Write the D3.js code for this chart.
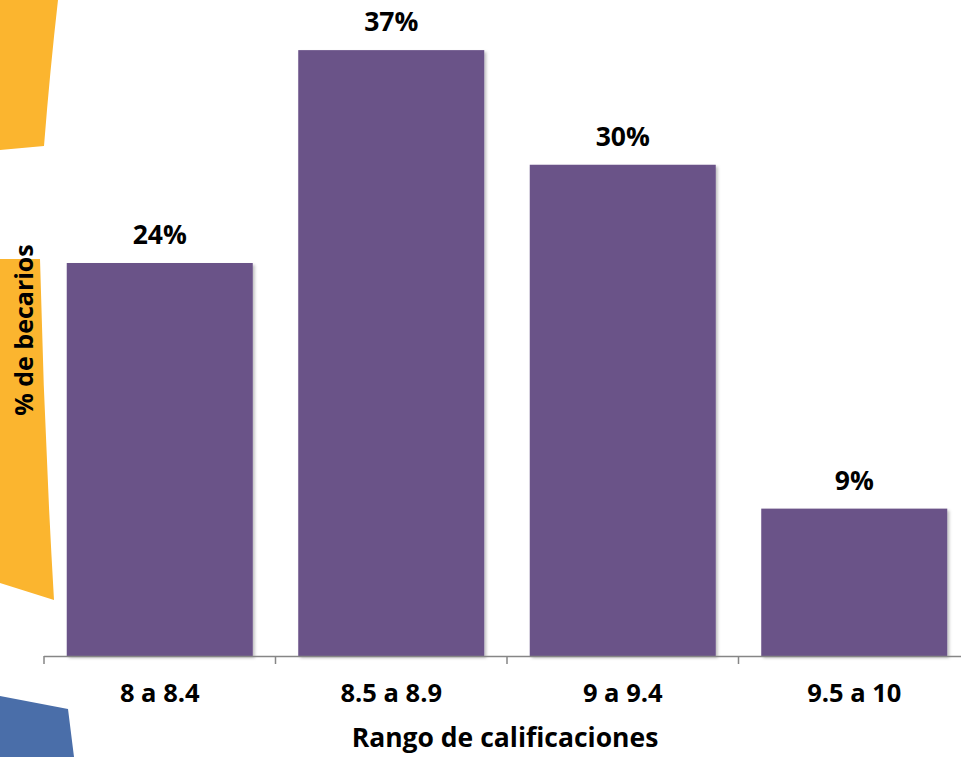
<!DOCTYPE html>
<html>
<head>
<meta charset="utf-8">
<script src="https://cdn.jsdelivr.net/npm/d3@7"></script>
<style>
html,body{margin:0;padding:0;background:#fff;}
svg{display:block;}
text{font-family:"Open Sans",Lato,sans-serif;font-weight:bold;fill:#000;}
</style>
</head>
<body>
<script>
const categories = ["8 a 8.4", "8.5 a 8.9", "9 a 9.4", "9.5 a 10"];
const values = [0.24, 0.37, 0.30, 0.09];
const valueLabels = ["24%", "37%", "30%", "9%"];
const xTitle = "Rango de calificaciones";
const yTitle = "% de becarios";

const W = 961, H = 757;
const svg = d3.select("body").append("svg").attr("width", W).attr("height", H);

// decorative background shapes
const deco = svg.append("g");
deco.append("path").attr("fill", "#FBB52F")
  .attr("d", "M0,0 L58,0 Q50,70 44,146 L0,150 Z");
deco.append("path").attr("fill", "#FBB52F")
  .attr("d", "M0,259 L40,259 Q44,430 54,600 L0,583 Z");
deco.append("path").attr("fill", "#4A6EA9")
  .attr("d", "M0,696 L68,709 L74,757 L0,757 Z");

const defs = svg.append("defs");
const f = defs.append("filter").attr("id", "sh").attr("x", "-5%").attr("y", "-5%").attr("width", "115%").attr("height", "115%");
f.append("feDropShadow").attr("dx", 2).attr("dy", 2).attr("stdDeviation", 1.5).attr("flood-color", "#000").attr("flood-opacity", 0.25);

const x = d3.scaleBand().domain(categories).range([44, 970]).paddingInner(0.1965).paddingOuter(0.09825);
const y = d3.scaleLinear().domain([0, 0.40]).range([656, 1]);

const bars = svg.append("g");
bars.selectAll("rect").data(values).join("rect")
  .attr("x", (d, i) => x(categories[i]))
  .attr("y", d => y(d))
  .attr("width", x.bandwidth())
  .attr("height", d => y(0) - y(d))
  .attr("fill", "#6A5288")
  .attr("filter", "url(#sh)");

// value labels
svg.append("g").selectAll("text").data(values).join("text")
  .attr("x", (d, i) => x(categories[i]) + x.bandwidth() / 2)
  .attr("y", d => y(d) - 19)
  .attr("text-anchor", "middle")
  .attr("font-size", 26.5)
  .text((d, i) => valueLabels[i]);

// x axis
const axis = svg.append("g").attr("transform", `translate(0,${y(0)})`);
const step = x.step();
const x0 = x.range()[0], x1 = x.range()[1];
axis.append("line").attr("x1", x0).attr("x2", x1).attr("y1", 0.5).attr("y2", 0.5)
  .attr("stroke", "#868686").attr("stroke-width", 1.5);
const bounds = categories.map(c => x(c) - step * x.paddingInner() / 2).concat([x1]);
axis.selectAll("line.tick").data(bounds).join("line").attr("class", "tick")
  .attr("x1", d => d).attr("x2", d => d).attr("y1", 0).attr("y2", 8)
  .attr("stroke", "#868686").attr("stroke-width", 1.5);
axis.selectAll("text").data(categories).join("text")
  .attr("x", d => x(d) + x.bandwidth() / 2)
  .attr("y", 46)
  .attr("text-anchor", "middle")
  .attr("font-size", 25.5)
  .text(d => d);

svg.append("text").attr("x", 505).attr("y", 747).attr("text-anchor", "middle")
  .attr("font-size", 26.5).text(xTitle);

svg.append("text").attr("transform", "translate(33,330) rotate(-90)")
  .attr("text-anchor", "middle").attr("font-size", 25).text(yTitle);
</script>
</body>
</html>
